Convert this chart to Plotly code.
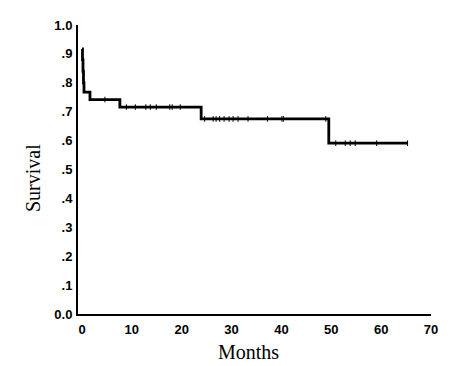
import numpy as np
import plotly.graph_objects as go

# Kaplan-Meier step data
event_times = [0, 0.1, 0.2, 0.3, 0.4, 1.6, 7.6, 23.9, 49.5]
survival = [0.917, 0.88, 0.84, 0.80, 0.768, 0.742, 0.716, 0.675, 0.591]
last_time = 65.3

censored_times = [4.6, 8.9, 10.7, 12.8, 13.7, 14.9, 17.6, 18.1, 19.7,
                  24.6, 26.3, 26.9, 27.6, 28.5, 29.5, 30.3, 31.3, 33.3,
                  37.2, 40.1, 40.4, 48.9,
                  50.9, 52.8, 53.8, 54.8, 59.1, 65.3]

y_tick_vals = [0, 0.1, 0.2, 0.3, 0.4, 0.5, 0.6, 0.7, 0.8, 0.9, 1.0]
y_tick_text = ["0.0", ".1", ".2", ".3", ".4", ".5", ".6", ".7", ".8", ".9", "1.0"]
x_tick_vals = [0, 10, 20, 30, 40, 50, 60, 70]
x_title = "Months"
y_title = "Survival"


def surv_at(t):
    idx = np.searchsorted(event_times, t, side="right") - 1
    return survival[max(idx, 0)]


step_x = list(event_times) + [last_time]
step_y = list(survival) + [survival[-1]]
cens_y = [surv_at(t) for t in censored_times]

fig = go.Figure()
fig.add_trace(go.Scatter(
    x=step_x, y=step_y, mode="lines", line_shape="hv",
    line=dict(color="black", width=2.8), hoverinfo="skip", showlegend=False))
fig.add_trace(go.Scatter(
    x=censored_times, y=cens_y, mode="markers",
    marker=dict(symbol="line-ns", size=4, line=dict(color="black", width=1)),
    showlegend=False))

tickfont = dict(family="Liberation Sans, Arial, sans-serif", size=13,
                color="black", weight="bold")
titlefont = dict(family="Liberation Serif, Times New Roman, serif", size=20,
                 color="black")

# page body has an 8px default margin, so the figure is sized 8px smaller
fig.update_layout(
    width=442, height=358,
    margin=dict(l=70, r=19, t=17, b=52),
    paper_bgcolor="white", plot_bgcolor="white",
    xaxis=dict(range=[-0.8, 70.0], tickvals=x_tick_vals, showgrid=False,
               zeroline=False, showline=True, linecolor="black", linewidth=2,
               ticks="", tickfont=tickfont, ticklabelstandoff=2,
               automargin=False),
    yaxis=dict(range=[0, 1.0], tickvals=y_tick_vals, ticktext=y_tick_text,
               showgrid=False, zeroline=False, showline=True,
               linecolor="black", linewidth=2, ticks="", tickfont=tickfont,
               ticklabelstandoff=1, automargin=False),
    annotations=[
        dict(text=x_title, xref="paper", yref="paper", x=0.484, y=-0.131,
             xanchor="center", yanchor="middle", showarrow=False,
             font=titlefont),
        dict(text=y_title, xref="paper", yref="paper", x=-0.129, y=0.472,
             xanchor="center", yanchor="middle", showarrow=False,
             textangle=-90, font=titlefont),
    ],
)

fig.write_html("out.html")
